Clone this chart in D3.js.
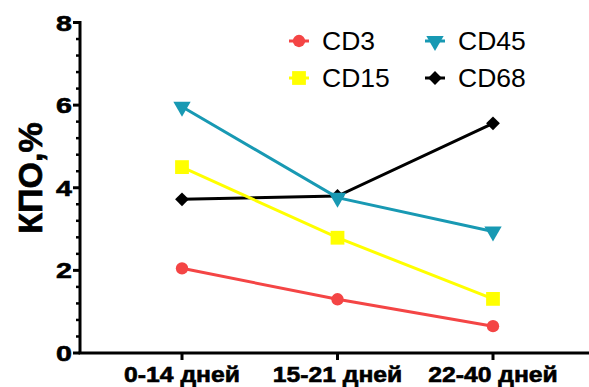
<!DOCTYPE html>
<html><head><meta charset="utf-8">
<script src="https://cdn.jsdelivr.net/npm/d3@7"></script>
<style>body{margin:0;background:#fff}svg{display:block}text{font-family:Arial,"Liberation Sans",sans-serif}</style>
</head><body>
<svg id="c" width="589" height="387"></svg>
<script>
const categories = ["0-14 дней", "15-21 дней", "22-40 дней"];
const seriesNames = ["CD3", "CD15", "CD45", "CD68"];
const cd3 = [2.05, 1.30, 0.65];
const cd15 = [4.50, 2.79, 1.31];
const cd45 = [5.96, 3.76, 2.94];
const cd68 = [3.72, 3.80, 5.56];
const yTicks = [0, 2, 4, 6, 8];
const colors = ["#f44545", "#ffff00", "#1899b3", "#000000"];
const symbols = ["circle", "square", "tri", "diamond"];
const values = [cd3, cd15, cd45, cd68];
const drawOrder = [3, 0, 1, 2];

const svg = d3.select("#c");
const y = d3.scaleLinear().domain([0, 8]).range([353, 22.5]);
const x = d3.scalePoint().domain(categories).range([182, 493]);

// y axis
const yAxis = svg.append("g").attr("transform", "translate(80,0)");
yAxis.append("line").attr("x1", 0).attr("x2", 0).attr("y1", y(8) - 1.5).attr("y2", y(0)).attr("stroke", "#000").attr("stroke-width", 3);
const minor = d3.range(0, 8.001, 0.4).filter(v => Math.abs(v / 2 - Math.round(v / 2)) > 0.01);
yAxis.selectAll(".mn").data(minor).join("line").attr("x1", -4).attr("x2", 0).attr("y1", d => y(d)).attr("y2", d => y(d)).attr("stroke", "#000").attr("stroke-width", 2.5);
yAxis.selectAll(".mj").data(yTicks).join("line").attr("x1", -7).attr("x2", 0).attr("y1", d => y(d)).attr("y2", d => y(d)).attr("stroke", "#000").attr("stroke-width", 3);
yAxis.selectAll(".tl").data(yTicks).join("text")
  .attr("transform", d => `translate(-8,${y(d) + 8}) scale(1.3,1)`)
  .attr("text-anchor", "end").attr("font-size", 22).attr("font-weight", "bold")
  .attr("stroke", "#000").attr("stroke-width", 0.6).text(d => d);

// x axis
const xAxis = svg.append("g");
xAxis.append("line").attr("x1", 78.5).attr("x2", 589).attr("y1", y(0)).attr("y2", y(0)).attr("stroke", "#000").attr("stroke-width", 3);
xAxis.selectAll(".xt").data(categories).join("line").attr("x1", d => x(d)).attr("x2", d => x(d)).attr("y1", y(0)).attr("y2", y(0) + 7).attr("stroke", "#000").attr("stroke-width", 3);
xAxis.selectAll(".xl").data(categories).join("text")
  .attr("transform", d => `translate(${x(d)},381.5) scale(1.15,1)`)
  .attr("text-anchor", "middle").attr("font-size", 21.5).attr("font-weight", "bold")
  .attr("stroke", "#000").attr("stroke-width", 0.6).text(d => d);

// y label
svg.append("text").attr("transform", "translate(42,178) rotate(-90)").attr("text-anchor", "middle")
  .attr("font-size", 34).attr("font-weight", "bold").attr("stroke", "#000").attr("stroke-width", 0.7).text("КПО,%");

function markerPath(s) {
  if (s === "circle") return d3.symbol().type(d3.symbolCircle).size(120)();
  if (s === "square") return d3.symbol().type(d3.symbolSquare).size(190)();
  if (s === "tri") return d3.symbol().type(d3.symbolTriangle).size(130)();
  return d3.symbol().type(d3.symbolSquare).size(95)();
}
function markerRot(s) {
  return s === "tri" ? " rotate(180)" : (s === "diamond" ? " rotate(45)" : "");
}

drawOrder.forEach(i => {
  const vals = values[i];
  const g = svg.append("g");
  g.append("path").datum(vals).attr("fill", "none").attr("stroke", colors[i]).attr("stroke-width", 3)
    .attr("d", d3.line().x((d, j) => x(categories[j])).y(d => y(d)));
  g.selectAll("path.m").data(vals).join("path").attr("class", "m")
    .attr("d", markerPath(symbols[i]))
    .attr("transform", (d, j) => `translate(${x(categories[j])},${y(d)})` + markerRot(symbols[i]))
    .attr("fill", colors[i]);
});

// legend
const legPos = [[299, 41], [299, 78], [435, 41], [435, 78]];
seriesNames.forEach((n, i) => {
  const [lx, ly] = legPos[i];
  const g = svg.append("g").attr("transform", `translate(${lx},${ly})`);
  g.append("line").attr("x1", -10).attr("x2", 10).attr("stroke", colors[i]).attr("stroke-width", 3);
  g.append("path").attr("d", markerPath(symbols[i])).attr("fill", colors[i]).attr("transform", markerRot(symbols[i]).trim() || null);
  g.append("text").attr("transform", "translate(23,9) scale(1.06,1)").attr("font-size", 25).text(n);
});
</script>
</body></html>
